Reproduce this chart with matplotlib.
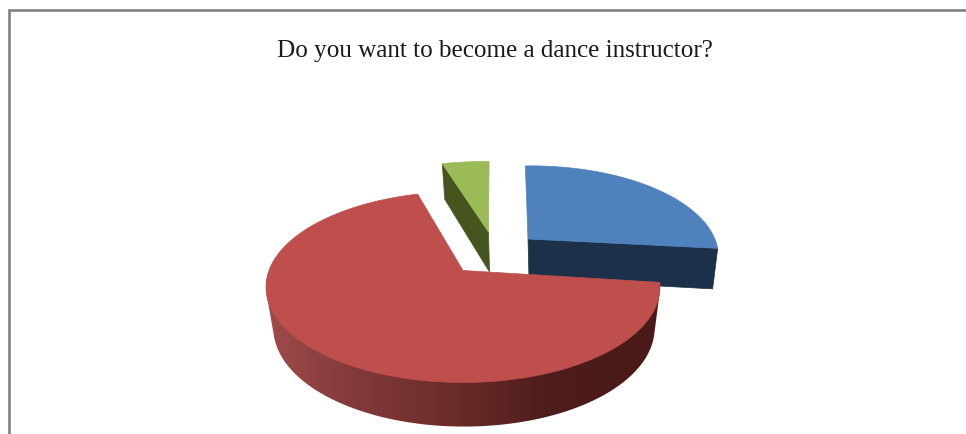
import numpy as np
import matplotlib
matplotlib.use("Agg")
import matplotlib.pyplot as plt
from matplotlib.colors import LinearSegmentedColormap
from matplotlib.patches import Polygon

title = "Do you want to become a dance instructor?"
categories = ["Yes", "No", "Maybe"]
values = [27.0, 68.6, 4.4]

# Drawing style per slice, in the order the slices are painted
top_colors = {"Yes": "#4F81BD", "No": "#BE4F4C", "Maybe": "#9BBB59"}
wall_colors = {"Yes": "#1C3149", "No": None, "Maybe": "#46541F"}
# apex x, apex y, x radius, y scale, perspective, lean, tilt
geometry = {
    "Yes": (528.0, 240.0, 186.0, 88.0, 0.204, -2.6, -2.0),
    "No": (463.0, 271.5, 194.0, 92.6, 0.173, 0.0, 0.0),
    "Maybe": (488.5, 233.0, 205.0, 85.0, 0.204, 0.6, 0.0),
}
radial_face = {"Yes": "end", "No": None, "Maybe": "start"}
paint_order = ["Yes", "Maybe", "No"]
START_ANGLE = 90.0
DEPTH = 40.0

fig = plt.figure(figsize=(9.66, 4.35), dpi=100)
ax = fig.add_axes([0, 0, 1, 1])
ax.set_xlim(0, 966)
ax.set_ylim(435, 0)
ax.axis("off")

# Frame
ax.plot([9, 9, 966], [435, 11, 11], color="#808080", lw=1.9, solid_joinstyle="miter")

ax.text(494.5, 57, title, family="Liberation Serif", fontsize=18.1,
        color="#1A1A1A", ha="center", va="baseline")

red_ramp = LinearSegmentedColormap.from_list(
    "wall", ["#A04C4A", "#82393A", "#6C2C2A", "#4F1D1B", "#491A18"])


def project(name, angle_deg, radius=1.0, bottom=False):
    cx, cy, a, b, k, lean, tilt = geometry[name]
    t = np.radians(angle_deg)
    x, y = radius * np.cos(t), radius * np.sin(t)
    w = 1 + k * y
    X, Y = a * x / w + lean * y, -b * y / w + tilt * x
    if bottom:
        return np.column_stack([cx + 1 + 0.968 * X,
                                cy + 0.99 * Y + DEPTH * (1 - 0.13 * y)])
    return np.column_stack([cx + X, cy + Y])


def convex_hull(points):
    pts = sorted(map(tuple, points))

    def half(seq):
        out = []
        for p in seq:
            while len(out) >= 2 and ((out[-1][0] - out[-2][0]) * (p[1] - out[-2][1])
                                     - (out[-1][1] - out[-2][1]) * (p[0] - out[-2][0])) <= 0:
                out.pop()
            out.append(p)
        return out[:-1]

    return np.array(half(pts) + half(pts[::-1]))


angles = {}
cursor = START_ANGLE
for name, v in zip(categories, values):
    sweep = v / sum(values) * 360
    angles[name] = (cursor, cursor - sweep)
    cursor -= sweep

for name in paint_order:
    a0, a1 = angles[name]
    arc = np.linspace(a0, a1, 241)
    top = project(name, arc)
    bot = project(name, arc, bottom=True)
    apex_top = project(name, np.array([0.0]), radius=0.0)
    apex_bot = project(name, np.array([0.0]), radius=0.0, bottom=True)

    # outer curved wall with its left-to-right shading
    if wall_colors[name] is None:
        vis = arc > -180
        hull = convex_hull(np.vstack([top[vis], bot[vis]]))
        patch = Polygon(hull, closed=True, fc="none", ec="none",
                        transform=ax.transData)
        ax.add_patch(patch)
        grad = np.linspace(0, 1, 256).reshape(1, -1)
        img = ax.imshow(grad, cmap=red_ramp, extent=(262, 640, 435, 270),
                        aspect="auto", zorder=1, interpolation="bilinear")
        img.set_clip_path(patch)
        # the ramp stops at 640: the last stretch keeps the darkest colour
        tail = ax.imshow(np.ones((1, 2)), cmap=red_ramp, vmin=0, vmax=1,
                         extent=(640, 670, 435, 270), aspect="auto", zorder=1)
        tail.set_clip_path(patch)
        ax.set_xlim(0, 966)
        ax.set_ylim(435, 0)

    # flat cut face
    side = radial_face[name]
    if side is not None:
        j = 0 if side == "start" else -1
        face = [apex_top[0], top[j], bot[j], apex_bot[0]]
        ax.add_patch(Polygon(face, closed=True, fc=wall_colors[name],
                             ec=wall_colors[name], lw=0.5))

    # top face
    outline = np.vstack([apex_top, top])
    ax.add_patch(Polygon(outline, closed=True, fc=top_colors[name],
                         ec=top_colors[name], lw=0.5, zorder=3))

fig.savefig("out.png", dpi=100, facecolor="white")
